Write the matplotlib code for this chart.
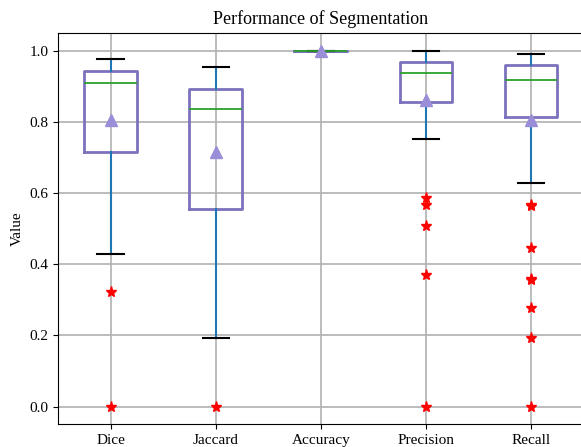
import matplotlib
matplotlib.use("Agg")
import matplotlib.pyplot as plt

plt.rcParams['font.family'] = ['Liberation Serif', 'DejaVu Serif']

labels = ["Dice", "Jaccard", "Accuracy", "Precision", "Recall"]
whislo = [0.430, 0.192, 0.998, 0.751, 0.627]
q1 = [0.714, 0.556, 0.999, 0.857, 0.815]
med = [0.910, 0.836, 1.000, 0.937, 0.917]
q3 = [0.944, 0.893, 1.000, 0.968, 0.960]
whishi = [0.976, 0.955, 1.000, 1.000, 0.990]
means = [0.806, 0.716, 0.999, 0.862, 0.804]
fliers = [
    [0.323, 0.0],
    [0.0],
    [],
    [0.585, 0.567, 0.507, 0.370, 0.0],
    [0.567, 0.563, 0.447, 0.360, 0.355, 0.277, 0.193, 0.0],
]

stats = []
for i in range(len(labels)):
    stats.append(dict(label=labels[i], whislo=whislo[i], q1=q1[i], med=med[i],
                      q3=q3[i], whishi=whishi[i], mean=means[i], fliers=fliers[i]))

fig = plt.figure(figsize=(5.81, 4.47), dpi=100)
ax = fig.add_axes([58/581, 1-424/447, 525.5/581, (424-32.5)/447])

ax.bxp(stats, widths=0.5, showmeans=True, patch_artist=False,
       boxprops=dict(color="#7b72bd", linewidth=2),
       whiskerprops=dict(color="#1f77b4", linewidth=1.5),
       capprops=dict(color="black", linewidth=1.5),
       medianprops=dict(color="#2ca02c", linewidth=1.3),
       meanprops=dict(marker="^", markerfacecolor="#9a8ed8", markeredgecolor="#9a8ed8", markersize=9),
       flierprops=dict(marker="*", markerfacecolor="red", markeredgecolor="red", markersize=8))

ax.grid(True, color="#b0b0b0", linewidth=1.2)
ax.set_axisbelow(True)
ax.set_xlim(0.5, 5.5)
ax.set_ylim(-0.0486, 1.051)
ax.set_yticks([0.0, 0.2, 0.4, 0.6, 0.8, 1.0])
ax.set_ylabel("Value", fontsize=11)
ax.set_title("Performance of Segmentation", fontsize=13)
ax.tick_params(labelsize=11)

fig.savefig("out.png", dpi=100)
